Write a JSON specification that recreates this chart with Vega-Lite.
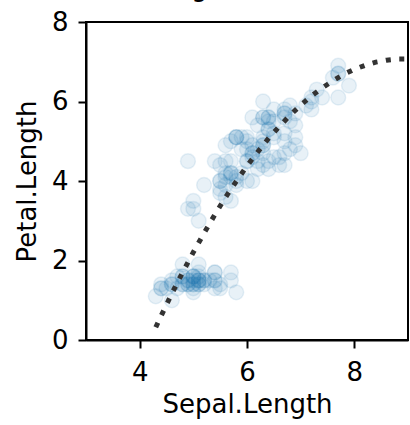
{
  "$schema": "https://vega.github.io/schema/vega-lite/v6.json",
  "autosize": "none",
  "width": 322,
  "height": 318,
  "padding": {"left": 86, "top": 22, "right": 2, "bottom": 85},
  "background": "white",
  "config": {
    "font": "DejaVu Sans",
    "view": {"stroke": "black", "strokeWidth": 2},
    "axis": {
      "grid": false,
      "domainColor": "black",
      "domainWidth": 2,
      "tickColor": "black",
      "tickWidth": 2,
      "tickSize": 8,
      "labelFont": "DejaVu Sans",
      "labelFontSize": 26,
      "labelColor": "black",
      "titleFont": "DejaVu Sans",
      "titleFontSize": 26,
      "titleFontWeight": "normal",
      "titleColor": "black"
    }
  },
  "title": {
    "text": "Regression fit",
    "font": "DejaVu Sans",
    "fontSize": 26,
    "fontWeight": "normal",
    "color": "black",
    "baseline": "alphabetic",
    "offset": 0,
    "dy": 13
  },
  "datasets": {
    "iris": [
      {"sepal":5.1,"petal":1.4},{"sepal":4.9,"petal":1.4},{"sepal":4.7,"petal":1.3},{"sepal":4.6,"petal":1.5},{"sepal":5.0,"petal":1.4},
      {"sepal":5.4,"petal":1.7},{"sepal":4.6,"petal":1.4},{"sepal":5.0,"petal":1.5},{"sepal":4.4,"petal":1.4},{"sepal":4.9,"petal":1.5},
      {"sepal":5.4,"petal":1.5},{"sepal":4.8,"petal":1.6},{"sepal":4.8,"petal":1.4},{"sepal":4.3,"petal":1.1},{"sepal":5.8,"petal":1.2},
      {"sepal":5.7,"petal":1.5},{"sepal":5.4,"petal":1.3},{"sepal":5.1,"petal":1.4},{"sepal":5.7,"petal":1.7},{"sepal":5.1,"petal":1.5},
      {"sepal":5.4,"petal":1.7},{"sepal":5.1,"petal":1.5},{"sepal":4.6,"petal":1.0},{"sepal":5.1,"petal":1.7},{"sepal":4.8,"petal":1.9},
      {"sepal":5.0,"petal":1.6},{"sepal":5.0,"petal":1.6},{"sepal":5.2,"petal":1.5},{"sepal":5.2,"petal":1.4},{"sepal":4.7,"petal":1.6},
      {"sepal":4.8,"petal":1.6},{"sepal":5.4,"petal":1.5},{"sepal":5.2,"petal":1.5},{"sepal":5.5,"petal":1.4},{"sepal":4.9,"petal":1.5},
      {"sepal":5.0,"petal":1.2},{"sepal":5.5,"petal":1.3},{"sepal":4.9,"petal":1.4},{"sepal":4.4,"petal":1.3},{"sepal":5.1,"petal":1.5},
      {"sepal":5.0,"petal":1.3},{"sepal":4.5,"petal":1.3},{"sepal":4.4,"petal":1.3},{"sepal":5.0,"petal":1.6},{"sepal":5.1,"petal":1.9},
      {"sepal":4.8,"petal":1.4},{"sepal":5.1,"petal":1.6},{"sepal":4.6,"petal":1.4},{"sepal":5.3,"petal":1.5},{"sepal":5.0,"petal":1.4},
      {"sepal":7.0,"petal":4.7},{"sepal":6.4,"petal":4.5},{"sepal":6.9,"petal":4.9},{"sepal":5.5,"petal":4.0},{"sepal":6.5,"petal":4.6},
      {"sepal":5.7,"petal":4.5},{"sepal":6.3,"petal":4.7},{"sepal":4.9,"petal":3.3},{"sepal":6.6,"petal":4.6},{"sepal":5.2,"petal":3.9},
      {"sepal":5.0,"petal":3.5},{"sepal":5.9,"petal":4.2},{"sepal":6.0,"petal":4.0},{"sepal":6.1,"petal":4.7},{"sepal":5.6,"petal":3.6},
      {"sepal":6.7,"petal":4.4},{"sepal":5.6,"petal":4.5},{"sepal":5.8,"petal":4.1},{"sepal":6.2,"petal":4.5},{"sepal":5.6,"petal":3.9},
      {"sepal":5.9,"petal":4.8},{"sepal":6.1,"petal":4.0},{"sepal":6.3,"petal":4.9},{"sepal":6.1,"petal":4.7},{"sepal":6.4,"petal":4.3},
      {"sepal":6.6,"petal":4.4},{"sepal":6.8,"petal":4.8},{"sepal":6.7,"petal":5.0},{"sepal":6.0,"petal":4.5},{"sepal":5.7,"petal":3.5},
      {"sepal":5.5,"petal":3.8},{"sepal":5.5,"petal":3.7},{"sepal":5.8,"petal":3.9},{"sepal":6.0,"petal":5.1},{"sepal":5.4,"petal":4.5},
      {"sepal":6.0,"petal":4.5},{"sepal":6.7,"petal":4.7},{"sepal":6.3,"petal":4.4},{"sepal":5.6,"petal":4.1},{"sepal":5.5,"petal":4.0},
      {"sepal":5.5,"petal":4.4},{"sepal":6.1,"petal":4.6},{"sepal":5.8,"petal":4.0},{"sepal":5.0,"petal":3.3},{"sepal":5.6,"petal":4.2},
      {"sepal":5.7,"petal":4.2},{"sepal":5.7,"petal":4.2},{"sepal":6.2,"petal":4.3},{"sepal":5.1,"petal":3.0},{"sepal":5.7,"petal":4.1},
      {"sepal":6.3,"petal":6.0},{"sepal":5.8,"petal":5.1},{"sepal":7.1,"petal":5.9},{"sepal":6.3,"petal":5.6},{"sepal":6.5,"petal":5.8},
      {"sepal":7.6,"petal":6.6},{"sepal":4.9,"petal":4.5},{"sepal":7.3,"petal":6.3},{"sepal":6.7,"petal":5.8},{"sepal":7.2,"petal":6.1},
      {"sepal":6.5,"petal":5.1},{"sepal":6.4,"petal":5.3},{"sepal":6.8,"petal":5.5},{"sepal":5.7,"petal":5.0},{"sepal":5.8,"petal":5.1},
      {"sepal":6.4,"petal":5.3},{"sepal":6.5,"petal":5.5},{"sepal":7.7,"petal":6.7},{"sepal":7.7,"petal":6.9},{"sepal":6.0,"petal":5.0},
      {"sepal":6.9,"petal":5.7},{"sepal":5.6,"petal":4.9},{"sepal":7.7,"petal":6.7},{"sepal":6.3,"petal":4.9},{"sepal":6.7,"petal":5.7},
      {"sepal":7.2,"petal":6.0},{"sepal":6.2,"petal":4.8},{"sepal":6.1,"petal":4.9},{"sepal":6.4,"petal":5.6},{"sepal":7.2,"petal":5.8},
      {"sepal":7.4,"petal":6.1},{"sepal":7.9,"petal":6.4},{"sepal":6.4,"petal":5.6},{"sepal":6.3,"petal":5.1},{"sepal":6.1,"petal":5.6},
      {"sepal":7.7,"petal":6.1},{"sepal":6.3,"petal":5.6},{"sepal":6.4,"petal":5.5},{"sepal":6.0,"petal":4.8},{"sepal":6.9,"petal":5.4},
      {"sepal":6.7,"petal":5.6},{"sepal":6.9,"petal":5.1},{"sepal":5.8,"petal":5.1},{"sepal":6.8,"petal":5.9},{"sepal":6.7,"petal":5.7},
      {"sepal":6.7,"petal":5.2},{"sepal":6.3,"petal":5.0},{"sepal":6.5,"petal":5.2},{"sepal":6.2,"petal":5.4},{"sepal":5.9,"petal":5.1}
    ],
    "fit": [
      {"sepal":4.3,"petal":0.32},{"sepal":4.4,"petal":0.61},{"sepal":4.6,"petal":1.17},{"sepal":4.8,"petal":1.70},
      {"sepal":5.0,"petal":2.21},{"sepal":5.2,"petal":2.69},{"sepal":5.4,"petal":3.15},{"sepal":5.6,"petal":3.59},
      {"sepal":5.8,"petal":3.99},{"sepal":6.0,"petal":4.38},{"sepal":6.2,"petal":4.73},{"sepal":6.4,"petal":5.07},
      {"sepal":6.6,"petal":5.37},{"sepal":6.8,"petal":5.65},{"sepal":7.0,"petal":5.91},{"sepal":7.2,"petal":6.14},
      {"sepal":7.4,"petal":6.34},{"sepal":7.6,"petal":6.52},{"sepal":7.8,"petal":6.68},{"sepal":8.0,"petal":6.81},
      {"sepal":8.2,"petal":6.91},{"sepal":8.4,"petal":6.99},{"sepal":8.6,"petal":7.04},{"sepal":8.8,"petal":7.07},
      {"sepal":9.0,"petal":7.07}
    ]
  },
  "layer": [
    {
      "data": {"name": "iris"},
      "mark": {"type": "point", "shape": "circle", "filled": true, "size": 220, "fill": "#1f77b4", "fillOpacity": 0.1, "stroke": "#1f77b4", "strokeOpacity": 0.1, "strokeWidth": 1.5, "opacity": 1},
      "encoding": {
        "x": {"field": "sepal", "type": "quantitative", "title": "Sepal.Length", "scale": {"domain": [3, 9], "nice": false, "zero": false}, "axis": {"values": [4, 6, 8], "format": "d", "labelPadding": 11, "titlePadding": 6}},
        "y": {"field": "petal", "type": "quantitative", "title": "Petal.Length", "scale": {"domain": [0, 8], "nice": false}, "axis": {"values": [0, 2, 4, 6, 8], "format": "d", "labelPadding": 10, "titlePadding": 11}}
      }
    },
    {
      "data": {"name": "fit"},
      "mark": {"type": "line", "color": "#333333", "strokeWidth": 5, "strokeDash": [5, 8.5], "strokeCap": "butt", "clip": true},
      "encoding": {
        "x": {"field": "sepal", "type": "quantitative"},
        "y": {"field": "petal", "type": "quantitative"}
      }
    }
  ]
}
